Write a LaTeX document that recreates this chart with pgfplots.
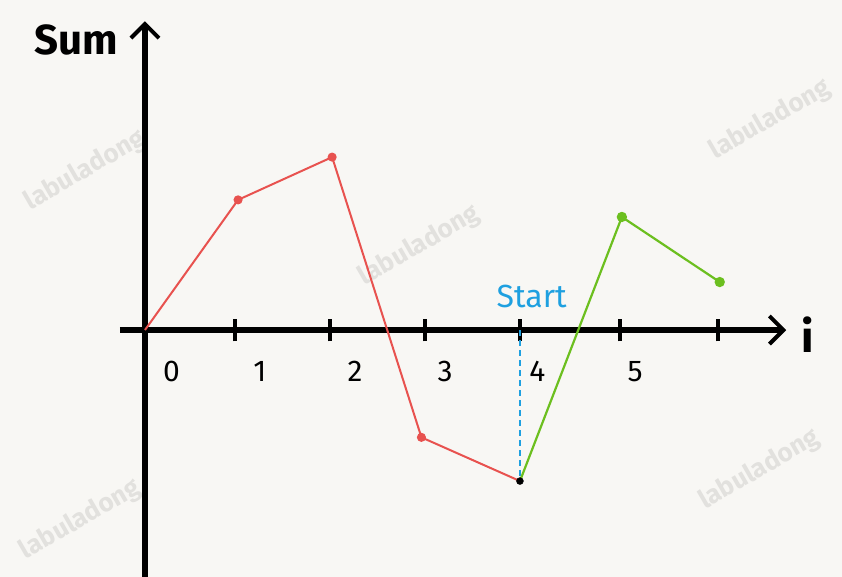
\documentclass[border=0pt]{standalone}
\usepackage{pgfplots}
\pgfplotsset{compat=1.18}
\usepackage{fontspec}
\setmainfont{Fira Sans}
\usetikzlibrary{arrows.meta}
\definecolor{paper}{HTML}{F8F7F4}
\definecolor{lred}{HTML}{E8524F}
\definecolor{lgreen}{HTML}{6CBF1F}
\definecolor{lblue}{HTML}{1EA0E0}
\definecolor{wm}{HTML}{E2E1DE}
\tikzset{wmstyle/.style={wm, rotate=30, inner sep=0pt, font=\bfseries\fontsize{26}{26}\selectfont}}
\begin{document}
\begin{tikzpicture}
\path[use as bounding box] (0,0) rectangle (842pt,577pt);
\begin{axis}[
  at={(0,0)}, anchor=south west,
  scale only axis, width=842pt, height=577pt,
  xmin=-1.526, xmax=7.337, ymin=-2.6, ymax=3.474,
  axis lines=none, ticks=none, clip=false,
  axis background/.style={fill=paper},
]
% watermarks
\node[wmstyle] at (axis cs:-0.63,1.68) {labuladong};
\node[wmstyle] at (axis cs:2.89,0.89) {labuladong};
\node[wmstyle] at (axis cs:6.58,2.21) {labuladong};
\node[wmstyle] at (axis cs:6.47,-1.47) {labuladong};
\node[wmstyle] at (axis cs:-0.68,-2.0) {labuladong};
% axes
\addplot[black, line width=5.5pt, -{Straight Barb[length=14pt,width=28pt,line width=4pt]}] coordinates {(-0.263,0) (6.75,0)};
\addplot[black, line width=5.5pt, -{Straight Barb[length=14pt,width=28pt,line width=4pt]}] coordinates {(0,-2.6) (0,3.25)};
% ticks
\addplot[black, line width=3.5pt] coordinates {(0.947,-0.12) (0.947,0.12)};
\addplot[black, line width=3.5pt] coordinates {(1.947,-0.12) (1.947,0.12)};
\addplot[black, line width=3.5pt] coordinates {(2.947,-0.12) (2.947,0.12)};
\addplot[black, line width=3.5pt] coordinates {(3.947,-0.12) (3.947,0.12)};
\addplot[black, line width=3.5pt] coordinates {(5.0,-0.12) (5.0,0.12)};
\addplot[black, line width=3.5pt] coordinates {(6.03,-0.12) (6.03,0.12)};
% dashed start line
\addplot[lblue, line width=1.8pt, dash pattern=on 6pt off 4pt] coordinates {(3.947,0) (3.947,-1.59)};
% red series
\addplot[lred, line width=2pt, mark=*, mark size=3.5pt, mark indices={2,3,4}] coordinates {
(0,0) (0.98,1.37) (1.97,1.82) (2.91,-1.13) (3.947,-1.59)};
% green series
\addplot[lgreen, line width=2.2pt, mark=*, mark size=4pt, mark indices={2,3}] coordinates {
(3.947,-1.59) (5.02,1.19) (6.05,0.505)};
% start point
\addplot[black, only marks, mark=*, mark size=3.5pt] coordinates {(3.947,-1.59)};
% labels
\node[font=\fontsize{30}{30}\selectfont] at (axis cs:0.28,-0.44) {0};
\node[font=\fontsize{30}{30}\selectfont] at (axis cs:1.21,-0.44) {1};
\node[font=\fontsize{30}{30}\selectfont] at (axis cs:2.21,-0.44) {2};
\node[font=\fontsize{30}{30}\selectfont] at (axis cs:3.16,-0.44) {3};
\node[font=\fontsize{30}{30}\selectfont] at (axis cs:4.13,-0.44) {4};
\node[font=\fontsize{30}{30}\selectfont] at (axis cs:5.16,-0.44) {5};
\node[font=\bfseries\fontsize{42}{42}\selectfont] at (axis cs:-0.72,3.05) {Sum};
\node[font=\bfseries\fontsize{44}{44}\selectfont] at (axis cs:6.98,-0.05) {i};
\node[lblue, font=\fontsize{32}{32}\selectfont] at (axis cs:4.07,0.35) {Start};
\end{axis}
\end{tikzpicture}
\end{document}
